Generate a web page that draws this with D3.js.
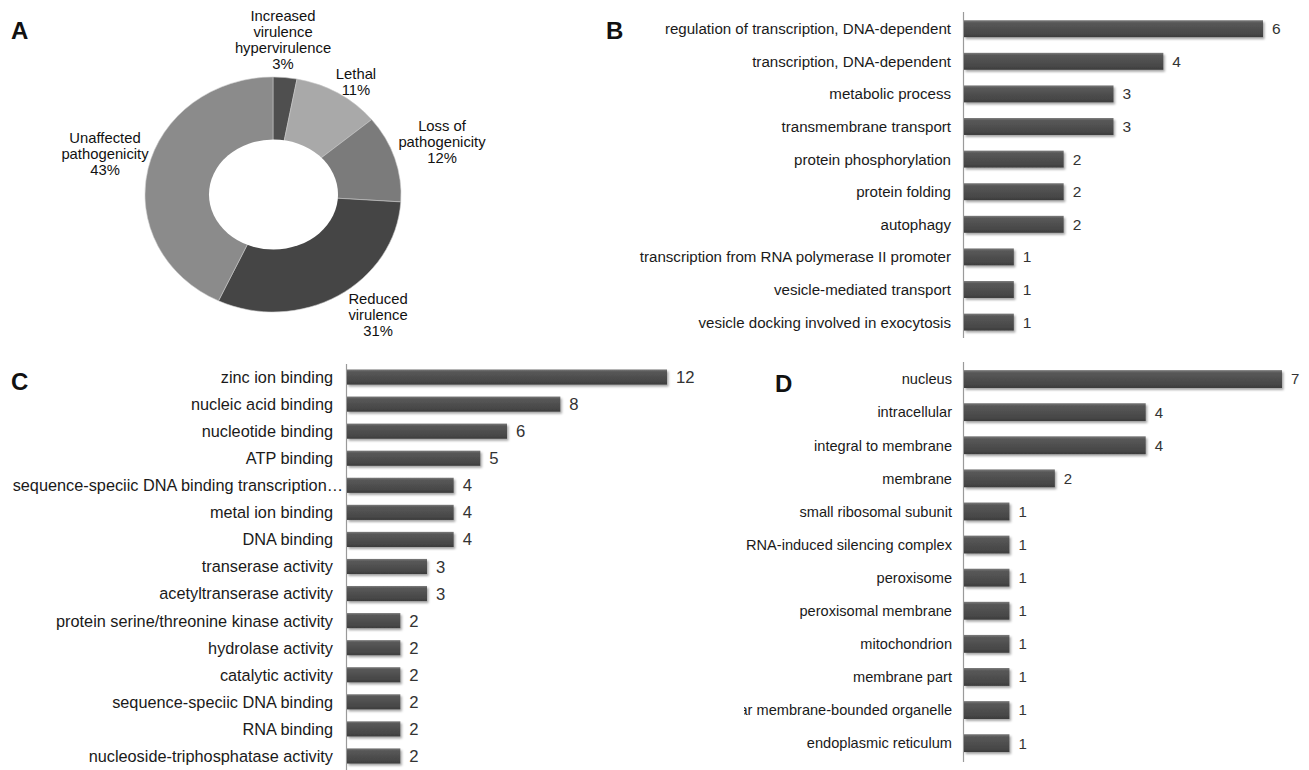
<!DOCTYPE html>
<html>
<head>
<meta charset="utf-8">
<script src="https://cdn.jsdelivr.net/npm/d3@7"></script>
<style>
  html, body { margin: 0; padding: 0; background: #fff; }
  svg { display: block; }
  .narrow { font-family: "Liberation Sans Narrow", "Arial Narrow", "Liberation Sans", Arial, sans-serif; }
  .reg { font-family: "Liberation Sans", Arial, sans-serif; }
</style>
</head>
<body>
<svg id="fig" width="1309" height="770"></svg>
<script>
// Panel A: phenotype categories of deletion mutants (percent)
const phenoLabels = [
  ["Increased", "virulence", "hypervirulence"],
  ["Lethal"],
  ["Loss of", "pathogenicity"],
  ["Reduced", "virulence"],
  ["Unaffected", "pathogenicity"]
];
const phenoValues = [3, 11, 12, 31, 43];
const phenoColors = ["#4f4f4f", "#a9a9a9", "#7b7b7b", "#454545", "#8b8b8b"];

// Panel B: biological process
const bpTerms = [
  "regulation of transcription, DNA-dependent",
  "transcription, DNA-dependent",
  "metabolic process",
  "transmembrane transport",
  "protein phosphorylation",
  "protein folding",
  "autophagy",
  "transcription from RNA polymerase II promoter",
  "vesicle-mediated transport",
  "vesicle docking involved in exocytosis"
];
const bpCounts = [6, 4, 3, 3, 2, 2, 2, 1, 1, 1];

// Panel C: molecular function
const mfTerms = [
  "zinc ion binding",
  "nucleic acid binding",
  "nucleotide binding",
  "ATP binding",
  "sequence-speciic DNA binding transcription\u2026",
  "metal ion binding",
  "DNA binding",
  "transerase activity",
  "acetyltranserase activity",
  "protein serine/threonine kinase activity",
  "hydrolase activity",
  "catalytic activity",
  "sequence-speciic DNA binding",
  "RNA binding",
  "nucleoside-triphosphatase activity"
];
const mfCounts = [12, 8, 6, 5, 4, 4, 4, 3, 3, 2, 2, 2, 2, 2, 2];

// Panel D: cellular component
const ccTerms = [
  "nucleus",
  "intracellular",
  "integral to membrane",
  "membrane",
  "small ribosomal subunit",
  "RNA-induced silencing complex",
  "peroxisome",
  "peroxisomal membrane",
  "mitochondrion",
  "membrane part",
  "intracellular membrane-bounded organelle",
  "endoplasmic reticulum"
];
const ccCounts = [7, 4, 4, 2, 1, 1, 1, 1, 1, 1, 1, 1];

const svg = d3.select("#fig");
const defs = svg.append("defs");

// bar shading: lighter top edge, dark body
const grad = defs.append("linearGradient")
  .attr("id", "barGrad").attr("x1", 0).attr("y1", 0).attr("x2", 0).attr("y2", 1);
grad.append("stop").attr("offset", "0%").attr("stop-color", "#7c7c7c");
grad.append("stop").attr("offset", "15%").attr("stop-color", "#585858");
grad.append("stop").attr("offset", "80%").attr("stop-color", "#474747");
grad.append("stop").attr("offset", "100%").attr("stop-color", "#3c3c3c");

const shadow = defs.append("filter").attr("id", "barShadow")
  .attr("x", "-5%").attr("y", "-20%").attr("width", "115%").attr("height", "160%");
shadow.append("feDropShadow").attr("dx", 1.5).attr("dy", 2).attr("stdDeviation", 1.2)
  .attr("flood-color", "#000").attr("flood-opacity", 0.35);

// panel letters
const letters = [["A", 11, 39], ["B", 606, 39], ["C", 11, 390], ["D", 775, 392]];
svg.selectAll("text.panel").data(letters).join("text")
  .attr("class", "panel reg")
  .attr("x", d => d[1]).attr("y", d => d[2])
  .attr("font-size", 24).attr("font-weight", "bold").attr("fill", "#111")
  .text(d => d[0]);

// ---------- Panel A: donut ----------
(function drawDonut() {
  const cx = 273, cy = 194.5, r = 128, sy = 0.918;
  const pie = d3.pie().sort(null).value(d => d)(phenoValues);
  const arc = d3.arc().innerRadius(0).outerRadius(r);
  const g = svg.append("g").attr("transform", `translate(${cx},${cy}) scale(1,${sy})`);
  g.selectAll("path").data(pie).join("path")
    .attr("d", arc)
    .attr("fill", (d, i) => phenoColors[i])
    .attr("stroke", "#c8c8c8").attr("stroke-width", 0.6);
  // hole
  svg.append("ellipse").attr("cx", cx + 0.5).attr("cy", cy)
    .attr("rx", 64.5).attr("ry", 55).attr("fill", "#fff");

  // label anchor points (text centres)
  const labelPos = [[283, 16], [356, 74], [442, 126], [378, 299], [105, 138]];
  phenoLabels.forEach((lines, i) => {
    const t = svg.append("text").attr("class", "reg")
      .attr("text-anchor", "middle").attr("font-size", 14.8).attr("fill", "#111")
      .attr("x", labelPos[i][0]).attr("y", labelPos[i][1] + 5);
    lines.concat([phenoValues[i] + "%"]).forEach((ln, k) => {
      t.append("tspan").attr("x", labelPos[i][0]).attr("dy", k === 0 ? 0 : 16).text(ln);
    });
  });
})();

// ---------- horizontal bar panels ----------
function barPanel(opts) {
  const { terms, counts, x0, x1, maxV, y0, y1, pad, axisTop, axisBottom, labelRight, clipLeft, fs } = opts;
  const x = d3.scaleLinear().domain([0, maxV]).range([x0, x1]);
  const y = d3.scaleBand().domain(terms).range([y0, y1]).paddingInner(pad).paddingOuter(pad / 2);
  const g = svg.append("g");

  g.append("line")
    .attr("x1", x(0) - 0.5).attr("x2", x(0) - 0.5)
    .attr("y1", axisTop).attr("y2", axisBottom)
    .attr("stroke", "#9a9a9a").attr("stroke-width", 1.2);

  g.selectAll("rect").data(terms).join("rect")
    .attr("x", x(0)).attr("y", d => y(d))
    .attr("width", (d, i) => x(counts[i]) - x(0))
    .attr("height", y.bandwidth())
    .attr("fill", "url(#barGrad)")
    .attr("filter", "url(#barShadow)");

  let labelG = g.append("g");
  if (clipLeft !== undefined) {
    const id = "clip" + Math.round(clipLeft);
    defs.append("clipPath").attr("id", id).append("rect")
      .attr("x", clipLeft).attr("y", 0).attr("width", labelRight - clipLeft + 20).attr("height", 770);
    labelG.attr("clip-path", `url(#${id})`);
  }
  // truncated labels (ending in an ellipsis) run up to the axis line
  labelG.selectAll("text").data(terms).join("text")
    .attr("class", "narrow")
    .attr("x", d => d.endsWith("\u2026") ? x(0) - 4 : labelRight)
    .attr("y", d => y(d) + y.bandwidth() / 2)
    .attr("dy", "0.36em").attr("text-anchor", "end")
    .attr("font-size", fs).attr("fill", "#1a1a1a")
    .text(d => d);

  g.selectAll("text.val").data(terms).join("text")
    .attr("class", "val narrow")
    .attr("x", (d, i) => x(counts[i]) + 9).attr("y", d => y(d) + y.bandwidth() / 2)
    .attr("dy", "0.36em").attr("font-size", fs + 0.4).attr("fill", "#333")
    .text((d, i) => counts[i]);
}

barPanel({ terms: bpTerms, counts: bpCounts, x0: 964, x1: 1263, maxV: 6, fs: 15.1,
  y0: 12.4, y1: 338.4, pad: 0.48, axisTop: 12, axisBottom: 338, labelRight: 951 });

barPanel({ terms: mfTerms, counts: mfCounts, x0: 347, x1: 667, maxV: 12, fs: 16.3,
  y0: 363.5, y1: 769.5, pad: 0.44, axisTop: 364, axisBottom: 770, labelRight: 333 });

barPanel({ terms: ccTerms, counts: ccCounts, x0: 964, x1: 1282, maxV: 7, fs: 14.6,
  y0: 362.5, y1: 759.7, pad: 0.46, axisTop: 362, axisBottom: 762, labelRight: 952, clipLeft: 744 });
</script>
</body>
</html>
